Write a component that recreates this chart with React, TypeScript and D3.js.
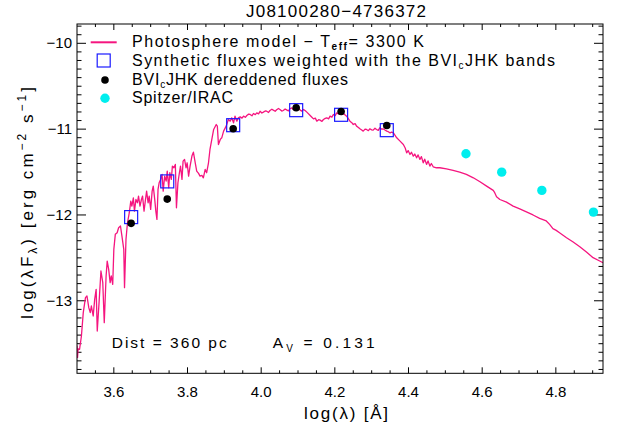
import React from "react";
import * as d3 from "d3";

// ---- data ----
const specLogLam = [
  3.500, 3.5015, 3.503, 3.507, 3.512, 3.517, 3.523, 3.527, 3.532, 3.536, 3.539, 3.544, 3.548, 3.552, 3.555,
  3.561, 3.565, 3.570, 3.574, 3.579, 3.582, 3.586, 3.590, 3.593, 3.597, 3.600, 3.604, 3.609, 3.613, 3.618,
  3.622, 3.627, 3.629, 3.633, 3.637, 3.642, 3.646, 3.649, 3.653, 3.656, 3.660, 3.664, 3.667, 3.671, 3.675,
  3.678, 3.682, 3.686, 3.689, 3.693, 3.696, 3.700, 3.704, 3.707, 3.711, 3.714, 3.717, 3.720, 3.723, 3.727,
  3.731, 3.734, 3.738, 3.742, 3.745, 3.749, 3.752, 3.756, 3.759, 3.763, 3.767, 3.770, 3.774, 3.778, 3.781,
  3.785, 3.788, 3.792, 3.796, 3.799, 3.803, 3.807, 3.812, 3.816, 3.821, 3.825, 3.830, 3.834, 3.839, 3.843,
  3.848, 3.852, 3.857, 3.861, 3.866, 3.871, 3.878, 3.881, 3.884, 3.889, 3.893, 3.898, 3.905, 3.911, 3.916,
  3.920, 3.925, 3.929, 3.934, 3.938, 3.943, 3.948, 3.952, 3.957, 3.961, 3.966, 3.970, 3.975, 3.979, 3.984,
  3.988, 3.993, 3.997, 4.002, 4.006, 4.011, 4.015, 4.020, 4.024, 4.029, 4.033, 4.038, 4.042, 4.047, 4.051,
  4.056, 4.060, 4.065, 4.069, 4.074, 4.078, 4.083, 4.087, 4.092, 4.097, 4.101, 4.106, 4.110, 4.115, 4.120,
  4.124, 4.133, 4.137, 4.142, 4.147, 4.151, 4.156, 4.160, 4.165, 4.169, 4.174, 4.178, 4.183, 4.187, 4.192,
  4.196, 4.201, 4.205, 4.210, 4.214, 4.219, 4.223, 4.228, 4.232, 4.237, 4.241, 4.246, 4.250, 4.255, 4.259,
  4.264, 4.268, 4.273, 4.277, 4.282, 4.286, 4.291, 4.295, 4.300, 4.304, 4.309, 4.313, 4.318, 4.322, 4.327,
  4.331, 4.336, 4.341, 4.345, 4.350, 4.354, 4.359, 4.368, 4.377, 4.386, 4.391, 4.395, 4.399, 4.404, 4.408,
  4.413, 4.417, 4.422, 4.426, 4.431, 4.435, 4.440, 4.444, 4.449, 4.453, 4.458, 4.462, 4.467, 4.476, 4.485,
  4.503, 4.521, 4.539, 4.557, 4.576, 4.594, 4.612, 4.630, 4.634, 4.639, 4.648, 4.666, 4.684, 4.702, 4.720,
  4.738, 4.756, 4.774, 4.783, 4.792, 4.801, 4.810, 4.829, 4.847, 4.865, 4.883, 4.901, 4.919, 4.928,
];
const specLogF = [
  -13.52, -13.66, -13.56, -13.565, -13.41, -13.138, -12.964, -12.944, -13.08, -13.138, -13.061, -13.177, -12.983, -12.867, -13.352,
  -12.944, -12.653, -12.789, -13.255, -12.711, -12.537, -12.634, -12.789, -12.711, -12.808, -12.401, -12.226, -12.207, -12.149, -12.129,
  -12.246, -12.401, -12.847, -12.285, -12.091, -11.974, -11.838, -11.897, -11.8, -11.955, -11.819, -11.858, -11.78, -11.897, -11.819,
  -11.78, -11.955, -11.819, -11.722, -11.858, -11.78, -11.935, -11.722, -11.664, -11.819, -11.955, -12.052, -11.703, -11.625, -11.586,
  -11.528, -11.722, -11.547, -11.605, -11.489, -11.683, -11.508, -11.586, -11.431, -11.45, -11.411, -11.916, -11.625, -11.508, -11.431,
  -11.586, -11.373, -11.353, -11.45, -11.392, -11.547, -11.431, -11.314, -11.268, -11.392, -11.489, -11.516, -11.547, -11.539, -11.567,
  -11.47, -11.508, -11.392, -11.237, -11.12, -11.004, -10.946, -10.965, -11.179, -11.12, -11.101, -11.023, -10.965, -10.888, -10.907,
  -10.868, -10.926, -10.849, -10.907, -10.868, -10.857, -10.872, -10.849, -10.862, -10.841, -10.825, -10.829, -10.845, -10.818, -10.831,
  -10.81, -10.822, -10.791, -10.812, -10.802, -10.788, -10.791, -10.806, -10.783, -10.768, -10.779, -10.792, -10.775, -10.760, -10.771,
  -10.790, -10.783, -10.765, -10.775, -10.788, -10.763, -10.752, -10.771, -10.780, -10.763, -10.748, -10.779, -10.790, -10.771, -10.786,
  -10.802, -10.841, -10.858, -10.88, -10.872, -10.907, -10.890, -10.895, -10.910, -10.888, -10.875, -10.868, -10.880, -10.849, -10.860,
  -10.829, -10.842, -10.81, -10.822, -10.791, -10.830, -10.818, -10.835, -10.849, -10.880, -10.907, -10.925, -10.946, -10.935, -10.965,
  -10.980, -10.996, -11.010, -11.023, -11.000, -11.004, -11.018, -10.996, -11.008, -11.012, -10.990, -11.004, -11.015, -10.984, -11.000,
  -10.996, -11.010, -11.023, -11.030, -11.043, -11.035, -11.043, -11.101, -11.14, -11.179, -11.22, -11.276, -11.25, -11.295, -11.27,
  -11.315, -11.29, -11.334, -11.30, -11.353, -11.32, -11.392, -11.35, -11.411, -11.37, -11.431, -11.40, -11.439, -11.45, -11.45,
  -11.462, -11.481, -11.501, -11.528, -11.567, -11.613, -11.664, -11.714, -11.74, -11.788, -11.82, -11.85, -11.897, -11.93, -11.965,
  -12.0, -12.04, -12.07, -12.11, -12.16, -12.18, -12.207, -12.265, -12.316, -12.37, -12.432, -12.498, -12.537, -12.556,
];

const bandLogLam = [3.647, 3.745, 3.924, 4.095, 4.217, 4.341];
const synthLogF = [-12.025, -11.609, -10.954, -10.779, -10.833, -11.012];
const obsLogF = [-12.098, -11.815, -10.996, -10.751, -10.794, -10.957];

const iracLogLam = [4.556, 4.653, 4.762, 4.902];
const iracLogF = [-11.287, -11.501, -11.714, -11.967];

const xTickLabels = [3.6, 3.8, 4.0, 4.2, 4.4, 4.6, 4.8];
const yTickLabels = [-13, -12, -11, -10];

const title = "J08100280\u22124736372";

// ---- layout ----
const W = 623;
const H = 434;
const L = 77, R = 603, T = 24, B = 373.3;
const FONT = "'Liberation Sans', Arial, sans-serif";
const PINK = "#f5157f";
const BLUE = "#1a1aff";
const CYAN = "#00eeee";

export default function App() {
  const x = d3.scaleLinear().domain([3.5, 4.928]).range([L, R]);
  const y = d3.scaleLinear().domain([-13.845, -9.775]).range([B, T]);

  const line = d3
    .line<number>()
    .x((_, i) => x(specLogLam[i]))
    .y((d) => y(d));

  const xMinor = d3.range(3.5, 4.93, 0.05).filter((v) => v > 3.501 && v < 4.927);
  const yMinor = d3.range(-13.8, -9.75, 0.1);
  const fmt = (v: number) => (v < 0 ? "\u2212" + Math.abs(v).toString() : v.toFixed(1));

  const box = 13;

  return (
    <svg width={W} height={H} style={{ position: "absolute", left: 0, top: 0, background: "#fff" }} fontFamily={FONT}>
      <defs>
        <clipPath id="plotclip">
          <rect x={L} y={T} width={R - L} height={B - T} />
        </clipPath>
      </defs>
      <rect width={W} height={H} fill="#fff" />
      {/* title */}
      <text x={336} y={17} fontSize={17} textAnchor="middle" textLength={180} lengthAdjust="spacing">
        {title}
      </text>

      {/* ticks */}
      <g stroke="#000" strokeWidth={1}>
        {xMinor.map((v, i) => {
          const isMajor = xTickLabels.some((t) => Math.abs(t - v) < 1e-6);
          const len = isMajor ? 6 : 3;
          return (
            <g key={"xt" + i}>
              <line x1={x(v)} x2={x(v)} y1={B} y2={B - len} />
              <line x1={x(v)} x2={x(v)} y1={T} y2={T + len} />
            </g>
          );
        })}
        {yMinor.map((v, i) => {
          const isMajor = yTickLabels.some((t) => Math.abs(t - v) < 1e-6);
          const len = isMajor ? 9 : 4.5;
          return (
            <g key={"yt" + i}>
              <line x1={L} x2={L + len} y1={y(v)} y2={y(v)} />
              <line x1={R} x2={R - len} y1={y(v)} y2={y(v)} />
            </g>
          );
        })}
      </g>

      {/* tick labels */}
      {xTickLabels.map((v) => (
        <text key={"xl" + v} x={x(v)} y={397} fontSize={15} textAnchor="middle">
          {fmt(v)}
        </text>
      ))}
      {yTickLabels.map((v) => (
        <text key={"yl" + v} x={72} y={y(v) + 5} fontSize={15} textAnchor="end">
          {fmt(v)}
        </text>
      ))}

      {/* axis titles */}
      <text x={346} y={419} fontSize={17} textAnchor="middle" textLength={84} lengthAdjust="spacing">
        log(λ)  [Å]
      </text>
      <text transform="translate(33,203) rotate(-90)" fontSize={17} textAnchor="middle" textLength={232} lengthAdjust="spacing">
        log(λF<tspan fontSize={12} dy={4}>λ</tspan>
        <tspan dy={-4}>)  [erg cm</tspan>
        <tspan fontSize={12} dy={-7}>−2</tspan>
        <tspan dy={7}> s</tspan>
        <tspan fontSize={12} dy={-7}>−1</tspan>
        <tspan dy={7}>]</tspan>
      </text>

      {/* spectrum */}
      <g clipPath="url(#plotclip)">
        <path d={line(specLogF) || ""} fill="none" stroke={PINK} strokeWidth={1.3} strokeLinejoin="round" />
      </g>

      {/* synthetic boxes */}
      {bandLogLam.map((lv, i) => (
        <rect
          key={"b" + i}
          x={x(lv) - box / 2}
          y={y(synthLogF[i]) - box / 2}
          width={box}
          height={box}
          fill="none"
          stroke={BLUE}
          strokeWidth={1.2}
        />
      ))}
      {/* observed dots */}
      {bandLogLam.map((lv, i) => (
        <circle key={"o" + i} cx={x(lv)} cy={y(obsLogF[i])} r={3.8} fill="#000" />
      ))}
      {/* IRAC */}
      {iracLogLam.map((lv, i) => (
        <circle key={"c" + i} cx={x(lv)} cy={y(iracLogF[i])} r={4.7} fill={CYAN} />
      ))}

      {/* frame */}
      <rect x={L} y={T} width={R - L} height={B - T} fill="none" stroke="#000" strokeWidth={1} />

      {/* legend */}
      <line x1={90.7} x2={116.7} y1={42.3} y2={42.3} stroke={PINK} strokeWidth={2} />
      <text x={132} y={47} fontSize={16} textLength={292} lengthAdjust="spacing">
        Photosphere model − T<tspan fontSize={10} fontWeight="bold" dy={3}>eff</tspan>
        <tspan dy={-3}>= 3300 K</tspan>
      </text>
      <rect x={97.2} y={54} width={13} height={13} fill="none" stroke={BLUE} strokeWidth={1.2} />
      <text x={132} y={66} fontSize={16} textLength={423} lengthAdjust="spacing">
        Synthetic fluxes weighted with the BVI<tspan fontSize={10} dy={3}>c</tspan>
        <tspan dy={-3}>JHK bands</tspan>
      </text>
      <circle cx={105} cy={80} r={3.8} fill="#000" />
      <text x={132} y={84.5} fontSize={16} textLength={216} lengthAdjust="spacing">
        BVI<tspan fontSize={10} dy={3}>c</tspan>
        <tspan dy={-3}>JHK dereddened fluxes</tspan>
      </text>
      <circle cx={105} cy={98.3} r={4.7} fill={CYAN} />
      <text x={132} y={103.3} fontSize={16} textLength={101} lengthAdjust="spacing">
        Spitzer/IRAC
      </text>

      {/* annotations */}
      <text x={111.7} y={348} fontSize={15.5} textLength={115} lengthAdjust="spacing">
        Dist = 360 pc
      </text>
      <text x={272.7} y={348} fontSize={15.5} textLength={102} lengthAdjust="spacing">
        A<tspan fontSize={10} dy={4}>V</tspan>
        <tspan dy={-4}> = 0.131</tspan>
      </text>
    </svg>
  );
}
